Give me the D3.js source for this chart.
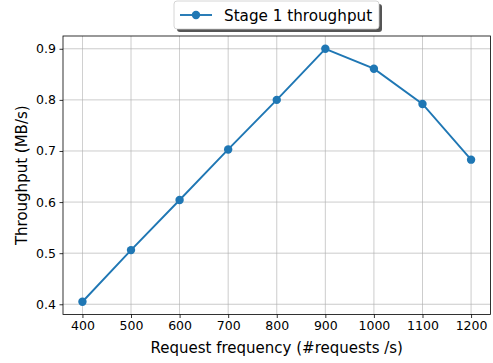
<!DOCTYPE html>
<html><head><meta charset="utf-8">
<script src="https://cdn.jsdelivr.net/npm/d3@7"></script>
<style>body{margin:0;background:#fff}svg{display:block}text{font-family:"DejaVu Sans",sans-serif;fill:#000}</style>
</head><body>
<svg id="c" width="493" height="363"></svg>
<script>
const categories = [400, 500, 600, 700, 800, 900, 1000, 1100, 1200];
const throughput = [0.405, 0.506, 0.604, 0.703, 0.800, 0.900, 0.861, 0.792, 0.683];
const yTicks = [0.4, 0.5, 0.6, 0.7, 0.8, 0.9];
const seriesName = "Stage 1 throughput";
const xLabel = "Request frequency (#requests /s)";
const yLabel = "Throughput (MB/s)";

const svg = d3.select("#c");
const L = 63, R = 490.5, T = 36, B = 314.5;
const x = d3.scaleLinear().domain([360, 1240]).range([L, R]);
const y = d3.scaleLinear().domain([0.38, 0.925]).range([B, T]);
const fs = 12.5, fsLab = 15, fsLeg = 15.2, color = "#1f77b4";

// grid
const g = svg.append("g");
g.selectAll(".gx").data(categories).enter().append("line")
  .attr("x1", d => x(d)).attr("x2", d => x(d)).attr("y1", T).attr("y2", B)
  .attr("stroke", "#b0b0b0").attr("stroke-width", 0.8).attr("opacity", 0.8);
g.selectAll(".gy").data(yTicks).enter().append("line")
  .attr("x1", L).attr("x2", R).attr("y1", d => y(d)).attr("y2", d => y(d))
  .attr("stroke", "#b0b0b0").attr("stroke-width", 0.8).attr("opacity", 0.8);

// axes
const xAxis = d3.axisBottom(x).tickValues(categories).tickSize(3.5).tickPadding(3.5).tickFormat(d3.format("d"));
const yAxis = d3.axisLeft(y).tickValues(yTicks).tickSize(3.5).tickPadding(3.5).tickFormat(d3.format(".1f"));
const ax = svg.append("g").attr("transform", `translate(0,${B})`).call(xAxis);
const ay = svg.append("g").attr("transform", `translate(${L},0)`).call(yAxis);
[ax, ay].forEach(a => {
  a.select(".domain").remove();
  a.selectAll("line").attr("stroke", "#000").attr("stroke-width", 0.8);
  a.selectAll("text").attr("font-size", fs).attr("font-family", "DejaVu Sans").attr("fill", "#000");
});

// line & markers
svg.append("path").datum(categories.map((c, i) => [c, throughput[i]]))
  .attr("fill", "none").attr("stroke", color).attr("stroke-width", 1.9)
  .attr("d", d3.line().x(d => x(d[0])).y(d => y(d[1])));
svg.selectAll(".pt").data(categories).enter().append("circle")
  .attr("cx", d => x(d)).attr("cy", (d, i) => y(throughput[i])).attr("r", 4.2).attr("fill", color);

// spines
svg.append("rect").attr("x", L).attr("y", T).attr("width", R - L).attr("height", B - T)
  .attr("fill", "none").attr("stroke", "#000").attr("stroke-width", 0.8);

// labels
svg.append("text").attr("x", (L + R) / 2).attr("y", 353).attr("text-anchor", "middle").attr("font-size", fsLab).text(xLabel);
svg.append("text").attr("transform", `translate(27,${(T + B) / 2}) rotate(-90)`).attr("text-anchor", "middle").attr("font-size", fsLab).text(yLabel);

// legend
const lg = svg.append("g");
const lx = 174, ly = 1, lw = 205, lh = 28;
lg.append("rect").attr("x", lx + 3).attr("y", ly + 3).attr("width", lw).attr("height", lh).attr("rx", 3).attr("fill", "#555");
lg.append("rect").attr("x", lx).attr("y", ly).attr("width", lw).attr("height", lh).attr("rx", 3)
  .attr("fill", "#fff").attr("stroke", "#ccc").attr("stroke-width", 0.8);
lg.append("line").attr("x1", lx + 6).attr("x2", lx + 38).attr("y1", ly + 14).attr("y2", ly + 14).attr("stroke", color).attr("stroke-width", 1.9);
lg.append("circle").attr("cx", lx + 22).attr("cy", ly + 14).attr("r", 4.2).attr("fill", color);
lg.append("text").attr("x", lx + 50).attr("y", ly + 19.7).attr("font-size", fsLeg).text(seriesName);
</script>
</body></html>
